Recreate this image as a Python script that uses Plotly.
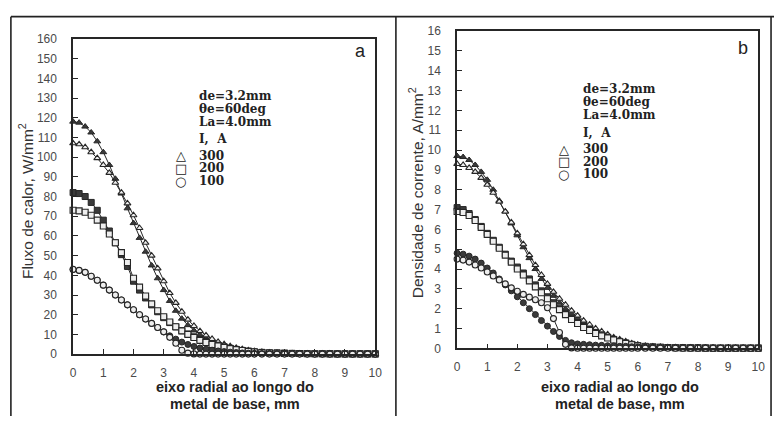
import plotly.graph_objects as go

W, H = 781, 423

# radial position along the base metal (mm)
x_mm = [0, 0.2, 0.4, 0.6, 0.8, 1.0, 1.2, 1.4, 1.6, 1.8, 2.0, 2.2, 2.4, 2.6, 2.8, 3.0,
        3.2, 3.4, 3.6, 3.8, 4.0, 4.2, 4.4, 4.6, 4.8, 5.0, 5.2, 5.4, 5.6, 5.8, 6.0,
        6.25, 6.5, 6.75, 7.0, 7.25, 7.5, 7.75, 8.0, 8.25, 8.5, 8.75, 9.0, 9.25, 9.5, 9.75, 10.0]

# (a) heat flux, W/mm2
heat_300_f = [118, 117.5, 115.5, 112.5, 108, 102.5, 96, 89, 81.5, 74, 66.5, 59, 52, 45, 38.5, 32.5,
              27, 22, 18, 14.7, 12, 9.8, 8, 6.5, 5.2, 4.2, 3.3, 2.6, 2, 1.5, 1.1,
              0.8, 0.6, 0.5, 0.4, 0.3, 0.3, 0.2, 0.2, 0.2, 0.1, 0.1, 0.1, 0.1, 0.1, 0.1, 0.1]
heat_300_o = [107, 106.5, 105, 102.5, 99.5, 96, 92, 87, 82, 76.5, 70.5, 64, 56.5, 50, 43.5, 37,
              31, 26, 21.5, 17.5, 14.3, 11.7, 9.5, 7.7, 6.2, 5, 4, 3.2, 2.5, 1.9, 1.5,
              1.1, 0.8, 0.6, 0.5, 0.4, 0.3, 0.3, 0.2, 0.2, 0.2, 0.1, 0.1, 0.1, 0.1, 0.1, 0.1]
heat_200_f = [82, 81.5, 80, 77, 73, 68, 62.5, 56.5, 50.5, 44.5, 37, 32.5, 28.5, 25, 21.5, 18.5,
              16, 13.8, 11.9, 10.2, 8.8, 7.5, 6.4, 5.4, 4.5, 3.7, 3, 2.4, 1.9, 1.5, 1.2,
              0.9, 0.7, 0.6, 0.5, 0.4, 0.3, 0.3, 0.2, 0.2, 0.2, 0.1, 0.1, 0.1, 0.1, 0.1, 0.1]
heat_200_o = [73, 72.7, 72, 70.5, 68, 65, 61, 56.5, 51.5, 46.5, 38.5, 34, 29.5, 25.5, 22, 19,
              16.3, 13.9, 11.8, 10, 8.4, 7, 5.9, 4.9, 4.1, 3.4, 2.8, 2.3, 1.8, 1.4, 1.1,
              0.8, 0.6, 0.5, 0.4, 0.3, 0.3, 0.2, 0.2, 0.2, 0.1, 0.1, 0.1, 0.1, 0.1, 0.1, 0.1]
heat_100_f = [43, 42.5, 41.5, 39.5, 37.5, 35, 32.5, 30, 27.5, 25, 22.5, 20, 17.8, 15.6, 13.5, 11.3,
              9.3, 7.6, 6.1, 4.9, 3.9, 3.1, 2.5, 2, 1.6, 1.3, 1, 0.8, 0.6, 0.5, 0.4,
              0.3, 0.3, 0.2, 0.2, 0.2, 0.1, 0.1, 0.1, 0.1, 0.1, 0.1, 0.1, 0.1, 0.1, 0.1, 0.1]
heat_100_o = [43, 42.5, 41.5, 39.5, 37.5, 35, 32.5, 30, 27.5, 25, 22.5, 20, 17.8, 15.6, 13.5, 11.3,
              8.5, 5.5, 2, 0.5, 0.1, 0, 0, 0, 0, 0, 0, 0, 0, 0, 0,
              0, 0, 0, 0, 0, 0, 0, 0, 0, 0, 0, 0, 0, 0, 0, 0]

# (b) current density, A/mm2
curr_300_f = [9.7, 9.65, 9.5, 9.25, 8.9, 8.5, 8, 7.45, 6.9, 6.3, 5.7, 5.1, 4.55, 4, 3.5, 3.05,
              2.65, 2.3, 2, 1.75, 1.5, 1.3, 1.1, 0.95, 0.8, 0.65, 0.5, 0.4, 0.3, 0.22, 0.15,
              0.1, 0.08, 0.06, 0.05, 0.04, 0.03, 0.03, 0.02, 0.02, 0.02, 0.01, 0.01, 0.01, 0.01, 0.01, 0.01]
curr_300_o = [9.3, 9.25, 9.1, 8.9, 8.6, 8.25, 7.85, 7.4, 6.9, 6.35, 5.8, 5.25, 4.7, 4.2, 3.7, 3.25,
              2.85, 2.5, 2.2, 1.9, 1.65, 1.4, 1.2, 1.0, 0.85, 0.7, 0.55, 0.45, 0.35, 0.25, 0.18,
              0.12, 0.09, 0.07, 0.05, 0.04, 0.03, 0.03, 0.02, 0.02, 0.02, 0.01, 0.01, 0.01, 0.01, 0.01, 0.01]
curr_200_f = [7.1, 7.0, 6.8, 6.5, 6.15, 5.8, 5.45, 5.1, 4.75, 4.4, 4.1, 3.8, 3.5, 3.2, 2.9, 2.6,
              2.3, 2.0, 1.75, 1.5, 1.3, 1.1, 0.95, 0.8, 0.68, 0.56, 0.45, 0.35, 0.27, 0.2, 0.14,
              0.1, 0.07, 0.05, 0.04, 0.03, 0.03, 0.02, 0.02, 0.02, 0.01, 0.01, 0.01, 0.01, 0.01, 0.01, 0.01]
curr_200_o = [6.9, 6.85, 6.7, 6.45, 6.1, 5.75, 5.4, 5.05, 4.7, 4.35, 4.0, 3.7, 3.4, 3.1, 2.8, 2.5,
              2.2, 1.95, 1.7, 1.45, 1.25, 1.05, 0.9, 0.75, 0.63, 0.52, 0.42, 0.33, 0.25, 0.18, 0.12,
              0.08, 0.06, 0.05, 0.04, 0.03, 0.02, 0.02, 0.02, 0.01, 0.01, 0.01, 0.01, 0.01, 0.01, 0.01, 0.01]
curr_100_f = [4.8, 4.75, 4.65, 4.5, 4.3, 4.05, 3.8, 3.5, 3.2, 2.9, 2.6, 2.3, 2.0, 1.7, 1.4, 1.12,
              0.85, 0.6, 0.4, 0.28, 0.22, 0.2, 0.18, 0.16, 0.15, 0.13, 0.12, 0.1, 0.1, 0.08, 0.07,
              0.06, 0.05, 0.04, 0.04, 0.03, 0.03, 0.02, 0.02, 0.02, 0.02, 0.01, 0.01, 0.01, 0.01, 0.01, 0.01]
curr_100_o = [4.5, 4.45, 4.35, 4.2, 4.05, 3.85, 3.65, 3.45, 3.25, 3.05, 2.88, 2.72, 2.58, 2.45, 2.3, 2.05,
              1.5, 0.8, 0.2, 0.02, 0, 0, 0, 0, 0, 0, 0, 0, 0, 0, 0,
              0, 0, 0, 0, 0, 0, 0, 0, 0, 0, 0, 0, 0, 0, 0, 0]

currents = ["300", "200", "100"]
symbols = ["triangle-up", "square", "circle"]
x_ticks = list(range(0, 11))
heat_ticks = list(range(0, 161, 10))
curr_ticks = list(range(0, 17))

INK = "#262626"

fig = go.Figure()


def add_pair(filled, opened, symbol, xa, ya):
    fig.add_trace(go.Scatter(
        x=x_mm, y=filled, mode="lines+markers", xaxis=xa, yaxis=ya, cliponaxis=False,
        line=dict(color=INK, width=1),
        marker=dict(symbol=symbol, size=6, color="#3a3a3a", line=dict(color=INK, width=1))))
    fig.add_trace(go.Scatter(
        x=x_mm, y=opened, mode="lines+markers", xaxis=xa, yaxis=ya, cliponaxis=False,
        line=dict(color=INK, width=1),
        marker=dict(symbol=symbol, size=6, color="#eeeeee", line=dict(color=INK, width=1.1))))


heat_pairs = [(heat_300_f, heat_300_o), (heat_200_f, heat_200_o), (heat_100_f, heat_100_o)]
curr_pairs = [(curr_300_f, curr_300_o), (curr_200_f, curr_200_o), (curr_100_f, curr_100_o)]
for (f, o), s in zip(heat_pairs, symbols):
    add_pair(f, o, s, "x", "y")
for (f, o), s in zip(curr_pairs, symbols):
    add_pair(f, o, s, "x2", "y2")


def px_x(v):
    return v / W


def px_y(v):
    return 1 - v / H


tick_font = dict(family="Liberation Sans, Arial, sans-serif", size=12, color="#4a4a4a")
common_x = dict(range=[0, 10], tickvals=x_ticks, ticks="inside", ticklen=5, tickwidth=1.2,
                tickcolor=INK, showline=True, mirror=True, linecolor=INK, linewidth=1.5,
                showgrid=False, zeroline=False, tickfont=tick_font, ticklabelstandoff=7)
common_y = dict(ticks="inside", ticklen=5, tickwidth=1.2, tickcolor=INK, showline=True,
                mirror=True, linecolor=INK, linewidth=1.5, showgrid=False, zeroline=False,
                tickfont=tick_font, ticklabelstandoff=12)

fig.update_layout(
    width=W, height=H, margin=dict(l=0, r=0, t=0, b=0),
    paper_bgcolor="white", plot_bgcolor="white", showlegend=False, hovermode=False,
    xaxis=dict(domain=[px_x(71), px_x(377)], anchor="y", **common_x),
    yaxis=dict(domain=[px_y(359), px_y(33)], anchor="x", range=[0, 160],
               tickvals=heat_ticks, **common_y),
    xaxis2=dict(domain=[px_x(460), px_x(765)], anchor="y2", **common_x),
    yaxis2=dict(domain=[px_y(353), px_y(25)], anchor="x2", range=[0, 16],
                tickvals=curr_ticks, **common_y),
)

serif = dict(family="DejaVu Serif, Liberation Serif, serif", size=12, color="#222")
sans_title = dict(family="Liberation Sans, Arial, sans-serif", size=15.5, color="#333")
sans_bold = dict(family="Liberation Sans, Arial, sans-serif", size=14.5, color="#222")

ann = []


def text(x, y, s, font, xanchor="left", yanchor="middle", angle=0):
    ann.append(dict(x=px_x(x), y=px_y(y), xref="paper", yref="paper", text=s,
                    showarrow=False, font=font, xanchor=xanchor, yanchor=yanchor,
                    textangle=angle))


legend_lines = ["de=3.2mm", "θe=60deg", "La=4.0mm"]
glyphs = ["△", "□", "○"]
for x0, y0, tag, tagpos, ytitle, ycx, ycy, xtc in [
        (197, 92, "a", (362, 46), "Fluxo de calor, W/mm<sup>2</sup>", 24, 201, 235),
        (585, 85, "b", (750, 42), "Densidade de corrente, A/mm<sup>2</sup>", 418, 192, 625)]:
    for i, s in enumerate(legend_lines):
        text(x0, y0 + 13.5 * i, "<b>" + s + "</b>", serif)
    text(x0, y0 + 45, "<b>I,  A</b>", serif)
    for i, (c, g) in enumerate(zip(currents, glyphs)):
        text(x0, y0 + 62 + 13 * i, "<b>" + c + "</b>", serif)
        text(x0 - 17, y0 + 62 + 13 * i, g, dict(family="DejaVu Sans", size=13, color="#222"),
             xanchor="center")
    text(tagpos[0], tagpos[1], tag, dict(family="Liberation Sans, Arial, sans-serif",
                                         size=18, color="#222"), xanchor="center")
    text(ycx, ycy, ytitle, sans_title, xanchor="center", angle=-90)
    text(xtc, 393, "<b>eixo radial ao longo do</b>", sans_bold, xanchor="center")
    text(xtc, 411, "<b>metal de base, mm</b>", sans_bold, xanchor="center")

fig.update_layout(annotations=ann)

# outer frame around both panels and the divider between them
frame = dict(color="#222", width=1.6)
fig.add_shape(type="line", xref="paper", yref="paper", x0=px_x(8), x1=px_x(8),
              y0=px_y(10), y1=0, line=frame)
fig.add_shape(type="line", xref="paper", yref="paper", x0=px_x(8), x1=1,
              y0=px_y(10), y1=px_y(10), line=frame)
fig.add_shape(type="line", xref="paper", yref="paper", x0=px_x(398), x1=px_x(398),
              y0=px_y(10), y1=0, line=frame)
fig.add_shape(type="line", xref="paper", yref="paper", x0=px_x(778), x1=px_x(778),
              y0=px_y(10), y1=0, line=frame)

fig.write_html("out.html")
